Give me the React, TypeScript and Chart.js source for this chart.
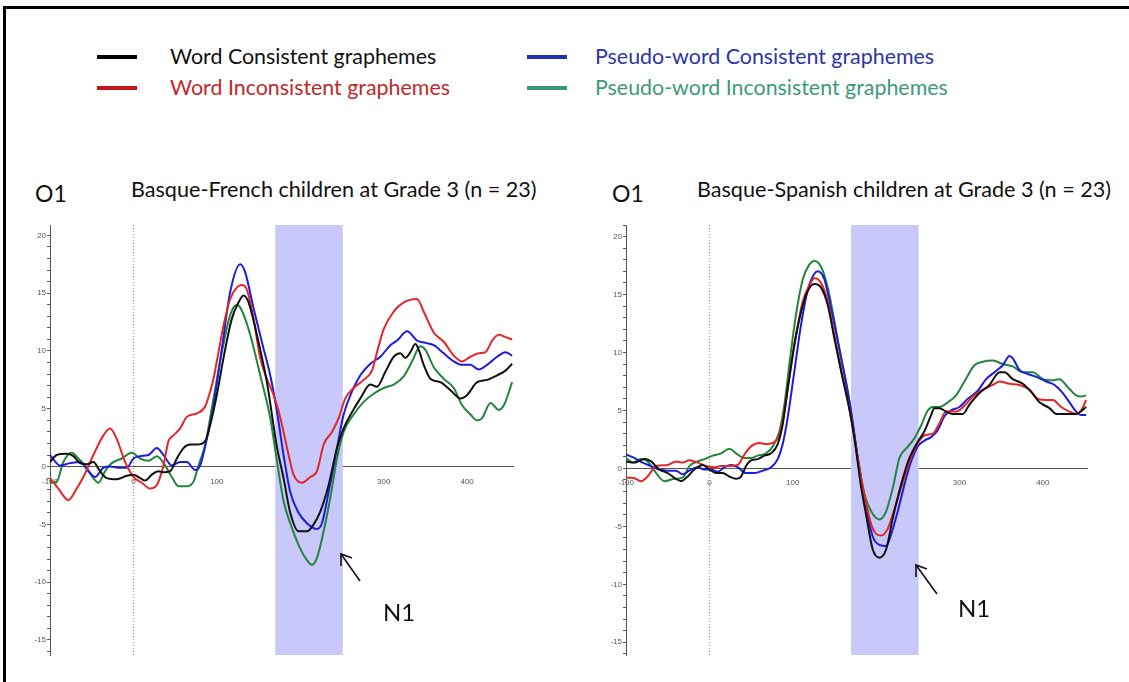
import React, { useEffect, useRef } from "react";
import { Chart, registerables } from "chart.js";

Chart.register(...registerables);

type P = [number, number][];

// ---------- Data (time in ms, amplitude in µV) ----------
const LEFT_TITLE = "Basque-French children at Grade 3 (n = 23)";
const RIGHT_TITLE = "Basque-Spanish children at Grade 3 (n = 23)";
const SERIES_NAMES = [
  "Word Consistent graphemes",
  "Word Inconsistent graphemes",
  "Pseudo-word Consistent graphemes",
  "Pseudo-word Inconsistent graphemes",
];
const X_TICKS = [-100, 0, 100, 200, 300, 400];
const BAND = [170, 251];

const L_WORD_CONS: P = [
  [-100, 0.4], [-92, 1.0], [-80, 1.1], [-72, 0.9], [-64, 0.3], [-56, 0.2], [-48, 0.4], [-40, -0.4],
  [-32, -1.0], [-20, -1.1], [-8, -0.8], [0, -0.7], [8, -1.0], [14, -1.2], [22, -0.7], [30, -0.4],
  [36, -0.5], [44, -0.4], [52, 0.7], [60, 1.6], [68, 1.9], [76, 1.9], [86, 2.2], [92, 3.6],
  [100, 6.2], [108, 9.4], [118, 12.8], [126, 14.2], [132, 14.8], [138, 14.2], [148, 11.4], [160, 7.3],
  [172, 1.7], [180, -1.0], [188, -4.0], [198, -5.6], [208, -5.6], [216, -5.0], [224, -3.9], [234, -1.6],
  [244, 1.6], [252, 3.3], [262, 4.7], [272, 5.9], [284, 7.1], [292, 6.9], [302, 8.2], [312, 9.5],
  [320, 9.8], [326, 9.4], [332, 9.9], [338, 10.6], [342, 10.1], [348, 8.8], [356, 7.6], [368, 7.3],
  [380, 6.6], [392, 5.9], [400, 6.2], [412, 7.3], [424, 7.5], [436, 7.9], [446, 8.3], [454, 8.9],
];
const L_WORD_INCONS: P = [
  [-100, -1.0], [-90, -1.9], [-78, -2.9], [-68, -1.9], [-60, -0.9], [-48, 1.0], [-36, 2.7], [-28, 3.3],
  [-20, 2.4], [-10, 0.4], [0, -0.9], [10, -1.4], [20, -1.9], [28, -1.6], [36, 0.1], [42, 2.2],
  [48, 2.7], [56, 3.3], [64, 4.3], [76, 4.6], [86, 5.2], [92, 6.5], [96, 7.6], [102, 9.9],
  [108, 12.2], [116, 14.5], [124, 15.5], [130, 15.7], [136, 15.3], [144, 12.8], [152, 9.4], [160, 7.6],
  [168, 6.2], [174, 4.8], [180, 3.0], [186, 1.0], [192, -0.7], [202, -1.4], [212, -0.9], [220, -0.4],
  [228, 1.9], [238, 3.0], [246, 4.2], [254, 5.9], [264, 6.8], [276, 7.5], [286, 8.3], [292, 9.9],
  [300, 11.9], [312, 13.4], [324, 14.2], [340, 14.5], [348, 13.4], [360, 11.6], [372, 10.8], [384, 9.6],
  [394, 9.1], [404, 9.5], [414, 9.8], [422, 9.9], [430, 10.9], [438, 11.4], [446, 11.2], [454, 11.0],
];
const L_PSEUDO_CONS: P = [
  [-100, 1.0], [-88, 0.1], [-76, 0.3], [-64, 0.4], [-54, -0.4], [-46, -0.9], [-36, -0.1], [-28, 0.0],
  [-16, -0.1], [-8, -0.1], [0, 0.7], [8, 0.9], [18, 1.0], [28, 1.6], [36, 1.0], [46, 0.1],
  [56, 0.4], [64, 0.4], [74, -0.3], [80, 0.1], [88, 2.4], [96, 5.3], [106, 10.2], [116, 15.1],
  [128, 17.5], [134, 16.8], [144, 13.7], [156, 10.2], [164, 7.9], [172, 4.8], [180, 1.0], [188, -2.2],
  [198, -4.0], [208, -4.9], [220, -5.4], [226, -4.9], [234, -2.2], [244, 1.6], [252, 4.5], [262, 6.5],
  [272, 7.9], [284, 8.9], [296, 9.5], [308, 10.5], [316, 10.9], [328, 11.7], [340, 10.9], [350, 10.7],
  [360, 10.5], [372, 9.8], [384, 9.1], [394, 8.8], [404, 8.8], [414, 8.4], [424, 8.8], [436, 9.5],
  [446, 9.9], [454, 9.6],
];
const L_PSEUDO_INCONS: P = [
  [-100, -1.4], [-92, -1.3], [-84, 0.4], [-74, 1.2], [-66, 0.7], [-56, -0.1], [-48, -1.0], [-42, -1.4],
  [-34, -0.4], [-26, 0.3], [-14, 0.7], [-2, 1.2], [8, 0.7], [18, 0.5], [28, 0.9], [38, 0.1],
  [46, -0.9], [54, -1.7], [64, -1.7], [72, -1.3], [78, 0.1], [86, 1.9], [96, 5.9], [106, 9.9],
  [116, 13.1], [124, 14.0], [130, 13.5], [140, 11.4], [152, 7.9], [164, 4.2], [172, 0.5], [180, -3.0],
  [190, -5.3], [200, -7.1], [208, -8.1], [214, -8.5], [220, -7.9], [228, -5.6], [236, -2.7], [244, 0.7],
  [252, 3.0], [264, 4.5], [276, 5.6], [288, 6.3], [300, 6.8], [312, 7.1], [324, 7.8], [334, 9.1],
  [344, 10.4], [350, 10.1], [360, 8.6], [372, 7.6], [384, 6.8], [394, 5.3], [404, 4.5], [412, 4.0],
  [418, 4.2], [428, 5.5], [438, 4.9], [444, 5.3], [454, 7.3],
];

const R_WORD_CONS: P = [
  [-100, 0.6], [-90, 0.5], [-78, 0.8], [-70, 0.6], [-60, -0.1], [-50, -0.4], [-40, -0.9], [-34, -1.1],
  [-26, -0.7], [-18, -0.1], [-8, 0.3], [0, -0.1], [8, -0.4], [16, -0.4], [24, -0.7], [32, -0.9],
  [38, -0.7], [44, 0.2], [50, 0.7], [58, 0.8], [66, 1.1], [74, 1.3], [82, 2.1], [88, 3.8],
  [94, 6.9], [102, 10.7], [110, 13.5], [118, 15.3], [126, 15.9], [134, 15.6], [142, 14.1], [150, 11.2],
  [158, 8.4], [166, 5.8], [174, 2.6], [182, -1.6], [188, -4.0], [196, -7.0], [204, -7.7], [212, -7.0],
  [220, -4.3], [230, -1.4], [240, 0.9], [250, 2.3], [258, 3.2], [266, 4.6], [270, 5.2], [276, 5.2],
  [284, 4.9], [292, 4.7], [304, 4.7], [312, 5.5], [324, 6.5], [336, 7.2], [348, 8.3], [354, 8.3],
  [364, 7.7], [376, 7.3], [386, 6.6], [396, 5.7], [408, 5.2], [416, 4.7], [428, 4.7], [440, 4.7],
  [452, 5.3],
];
const R_WORD_INCONS: P = [
  [-100, -0.8], [-92, -0.8], [-82, -1.1], [-74, -0.7], [-64, 0.2], [-50, 0.3], [-40, 0.6], [-32, 0.5],
  [-24, 0.7], [-14, 0.5], [-4, 0.2], [6, 0.1], [14, 0.2], [24, 0.2], [34, 0.3], [42, 1.2],
  [50, 1.9], [60, 2.2], [68, 2.1], [76, 2.2], [84, 2.9], [90, 4.9], [96, 7.8], [104, 11.5],
  [112, 14.4], [120, 15.8], [126, 16.4], [134, 16.0], [142, 14.4], [150, 11.5], [160, 7.8], [170, 4.4],
  [178, 0.9], [188, -3.0], [196, -5.2], [206, -5.8], [214, -5.2], [222, -3.5], [232, -1.2], [242, 1.0],
  [252, 2.4], [260, 2.9], [268, 3.0], [276, 3.9], [284, 4.9], [296, 4.9], [306, 5.4], [316, 6.2],
  [328, 6.8], [340, 7.2], [348, 7.5], [360, 7.3], [372, 7.2], [384, 6.8], [394, 6.0], [404, 5.9],
  [412, 5.9], [422, 5.3], [432, 4.9], [440, 4.7], [446, 5.0], [452, 5.9],
];
const R_PSEUDO_CONS: P = [
  [-100, 1.2], [-90, 0.9], [-80, 0.5], [-70, 0.2], [-60, -0.1], [-50, -0.2], [-40, -0.2], [-32, -0.5],
  [-24, -0.2], [-14, 0.1], [-6, -0.1], [2, -0.1], [10, -0.3], [18, 0.1], [26, 0.3], [34, 0.1],
  [44, -0.4], [54, -0.4], [64, -0.2], [74, 0.1], [82, 0.8], [88, 2.1], [94, 4.4], [102, 8.4],
  [110, 12.4], [118, 15.4], [126, 16.8], [130, 17.0], [138, 16.3], [146, 13.8], [154, 11.0], [162, 8.1],
  [170, 4.9], [178, 0.9], [188, -3.4], [196, -5.9], [204, -6.6], [212, -6.7], [218, -5.7], [226, -3.7],
  [234, -1.4], [242, 0.6], [250, 1.9], [258, 2.4], [266, 2.7], [274, 3.3], [282, 4.5], [290, 5.0],
  [300, 5.3], [310, 6.0], [322, 6.7], [332, 7.7], [342, 8.3], [352, 8.9], [360, 9.7], [364, 9.5],
  [372, 8.5], [380, 8.2], [392, 7.9], [404, 7.5], [414, 7.2], [424, 6.5], [432, 5.7], [440, 4.9],
  [446, 4.6], [452, 4.6],
];
const R_PSEUDO_INCONS: P = [
  [-100, 0.9], [-92, 0.5], [-82, 0.8], [-74, 0.6], [-66, -0.2], [-54, -1.1], [-42, -0.9], [-32, -0.8],
  [-24, 0.2], [-14, 0.6], [-6, 0.8], [4, 1.1], [14, 1.3], [24, 1.7], [32, 1.3], [42, 0.9],
  [50, 0.9], [58, 1.1], [68, 1.3], [76, 1.9], [84, 3.2], [90, 5.5], [96, 9.0], [104, 13.3],
  [112, 16.3], [120, 17.6], [126, 17.9], [134, 17.4], [142, 15.6], [150, 12.7], [158, 9.5], [166, 6.7],
  [174, 2.9], [180, 0.0], [186, -2.2], [194, -3.7], [204, -4.4], [212, -3.7], [220, -1.7], [228, 0.9],
  [236, 1.7], [246, 2.6], [254, 3.7], [262, 5.0], [268, 5.3], [276, 5.3], [286, 5.7], [296, 6.3],
  [306, 7.5], [318, 8.9], [328, 9.2], [340, 9.3], [352, 9.0], [364, 8.8], [376, 8.3], [388, 8.3],
  [400, 7.7], [412, 7.6], [420, 7.7], [430, 7.0], [440, 6.3], [446, 6.2], [452, 6.3],
];

// ---------- Styles ----------
const LINE_COLORS = ["#111111", "#e42626", "#1c1ce0", "#23843c"];
const LEGEND_SWATCH = ["#000000", "#c0161c", "#1f2fb0", "#3a9a78"];
const LEGEND_TEXT = ["#111111", "#c0282d", "#2e35a8", "#3c9a7a"];
const BAND_COLOR = "#c8c8fa";
const AXIS_COLOR = "#555555";
const FONT = "Lato, 'Open Sans', sans-serif";

const overlayPlugin = {
  id: "erpOverlay",
  beforeDatasetsDraw(chart: any) {
    const { ctx, chartArea, scales } = chart;
    const x = scales.x;
    ctx.save();
    const x1 = x.getPixelForValue(BAND[0]);
    const x2 = x.getPixelForValue(BAND[1]);
    ctx.fillStyle = BAND_COLOR;
    ctx.fillRect(x1, chartArea.top, x2 - x1, chartArea.bottom - chartArea.top);
    const x0 = Math.round(x.getPixelForValue(0)) + 0.5;
    ctx.strokeStyle = "#8a8a8a";
    ctx.lineWidth = 1;
    ctx.setLineDash([1, 2]);
    ctx.beginPath();
    ctx.moveTo(x0, chartArea.top);
    ctx.lineTo(x0, chartArea.bottom);
    ctx.stroke();
    ctx.restore();
  },
};

function ErpChart(props: {
  series: P[];
  xMax: number;
  yMin: number;
  yMax: number;
  padRight: number;
  style: React.CSSProperties;
}) {
  const ref = useRef<HTMLCanvasElement>(null);
  useEffect(() => {
    if (!ref.current) return;
    const chart = new Chart(ref.current, {
      type: "line",
      data: {
        datasets: props.series.map((s, i) => ({
          label: SERIES_NAMES[i],
          data: s.map(([x, y]) => ({ x, y })),
          borderColor: LINE_COLORS[i],
          borderWidth: 2,
          pointRadius: 0,
          cubicInterpolationMode: "monotone" as const,
          fill: false,
        })),
      },
      options: {
        animation: false,
        responsive: false,
        maintainAspectRatio: false,
        layout: { padding: { left: 0, top: 10, right: props.padRight, bottom: 10 } },
        plugins: { legend: { display: false }, tooltip: { enabled: false } },
        scales: {
          x: {
            type: "linear",
            min: -100,
            max: props.xMax,
            position: { y: 0 } as any,
            afterBuildTicks: (scale: any) => {
              scale.ticks = X_TICKS.map((v) => ({ value: v }));
            },
            ticks: {
              autoSkip: false,
              maxRotation: 0,
              padding: 2,
              color: "#555",
              font: { family: "'Liberation Sans', Arial", size: 8 },
            },
            grid: { display: false },
            border: { display: true, color: AXIS_COLOR, width: 1 },
          },
          y: {
            type: "linear",
            min: props.yMin,
            max: props.yMax,
            afterFit: (scale: any) => {
              scale.width = 50;
            },
            ticks: {
              stepSize: 1,
              includeBounds: false,
              autoSkip: false,
              padding: 1,
              color: "#555",
              font: { family: "'Liberation Sans', Arial", size: 8 },
              callback: (v: any) => (Math.round(Number(v)) % 5 === 0 ? String(Math.round(Number(v))) : ""),
            },
            grid: {
              drawOnChartArea: false,
              tickLength: 3,
              color: AXIS_COLOR,
            },
            border: { display: true, color: AXIS_COLOR, width: 1 },
          },
        },
      },
      plugins: [overlayPlugin],
    });
    return () => chart.destroy();
  }, []);
  return <canvas ref={ref} width={520} height={450} style={{ position: "absolute", width: 520, height: 450, ...props.style }} />;
}

function Txt(props: { x: number; y: number; size: number; color?: string; children: React.ReactNode }) {
  return (
    <div
      style={{
        position: "absolute",
        left: props.x,
        top: props.y,
        transform: "translateY(-50%)",
        fontSize: props.size,
        lineHeight: 1,
        color: props.color || "#111",
        whiteSpace: "nowrap",
        fontFamily: FONT,
      }}
    >
      {props.children}
    </div>
  );
}

export default function App() {
  const legendPos = [
    { sx: 97, tx: 170, y: 57 },
    { sx: 97, tx: 170, y: 88 },
    { sx: 527, tx: 595, y: 57 },
    { sx: 527, tx: 595, y: 88 },
  ];
  return (
    <div
      style={{
        position: "absolute",
        left: 0,
        top: 0,
        width: 1129,
        height: 682,
        background: "#fff",
        overflow: "hidden",
      }}
    >
      <div
        style={{
          position: "absolute",
          left: 3,
          top: 6,
          width: 1140,
          height: 700,
          borderLeft: "3px solid #000",
          borderTop: "3px solid #000",
        }}
      />
      {SERIES_NAMES.map((name, i) => (
        <React.Fragment key={name}>
          <div
            style={{
              position: "absolute",
              left: legendPos[i].sx,
              top: legendPos[i].y - 2,
              width: 40,
              height: 4,
              background: LEGEND_SWATCH[i],
            }}
          />
          <Txt x={legendPos[i].tx} y={legendPos[i].y} size={21.4} color={LEGEND_TEXT[i]}>
            {name}
          </Txt>
        </React.Fragment>
      ))}

      <Txt x={35} y={193} size={23}>O1</Txt>
      <Txt x={131} y={190} size={21.6}>{LEFT_TITLE}</Txt>
      <Txt x={612} y={193} size={23}>O1</Txt>
      <Txt x={697} y={190} size={21.6}>{RIGHT_TITLE}</Txt>

      <ErpChart
        series={[L_WORD_CONS, L_WORD_INCONS, L_PSEUDO_CONS, L_PSEUDO_INCONS]}
        xMax={455}
        yMin={-16.3}
        yMax={20.9}
        padRight={7}
        style={{ left: 0, top: 215 }}
      />
      <ErpChart
        series={[R_WORD_CONS, R_WORD_INCONS, R_PSEUDO_CONS, R_PSEUDO_INCONS]}
        xMax={453}
        yMin={-16.1}
        yMax={21.0}
        padRight={9}
        style={{ left: 576, top: 215 }}
      />

      <svg width={1129} height={682} style={{ position: "absolute", left: 0, top: 0, pointerEvents: "none" }}>
        <g stroke="#111" strokeWidth={1.6} fill="none">
          <line x1={360} y1={581} x2={341} y2={554} />
          <polyline points="341,566 341,554 352,558" />
          <line x1={937} y1={594} x2={916} y2={565} />
          <polyline points="916,577 916,565 927,569" />
        </g>
      </svg>
      <Txt x={383} y={612} size={24}>N1</Txt>
      <Txt x={958} y={608} size={24}>N1</Txt>
    </div>
  );
}
